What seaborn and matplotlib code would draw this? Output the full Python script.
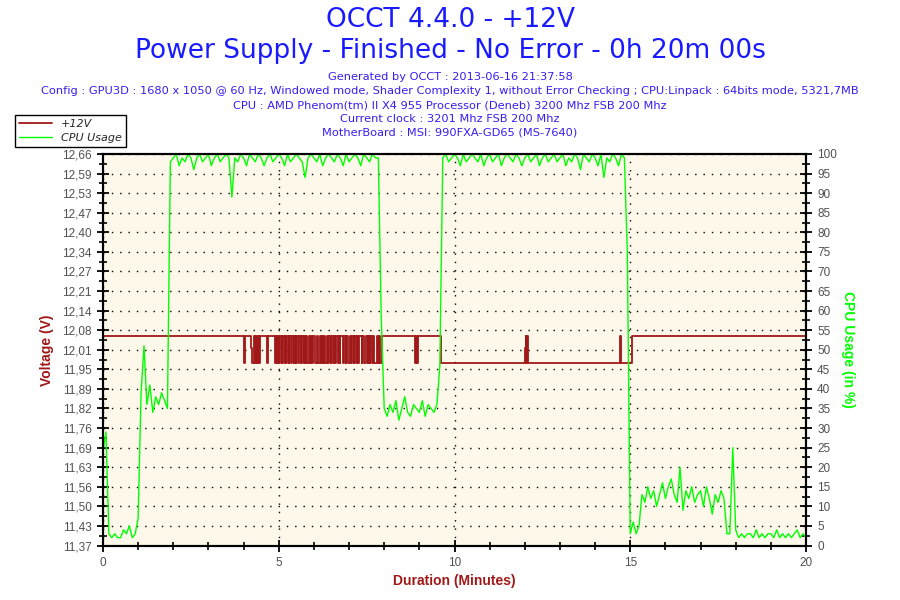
"""OCCT +12V power supply log: voltage and CPU usage over a 20 minute run."""

import matplotlib
matplotlib.use("Agg")
import matplotlib.pyplot as plt
import numpy as np
import pandas as pd
import seaborn as sns

# Voltage levels seen in the log.
HI, MID, LO = 12.06, 12.02, 11.97

# Voltage change points (minutes) and the level from that point on.
volt_minutes = [
    0.00,
    4.02, 4.05, 4.22, 4.25, 4.29, 4.33, 4.35, 4.39, 4.41, 4.44, 4.46,
    4.66, 4.68, 4.90, 4.92, 4.95, 4.97,
    5.02, 5.04, 5.08, 5.10, 5.15, 5.17, 5.21, 5.23, 5.28, 5.30,
    5.34, 5.37, 5.42, 5.44, 5.48, 5.50, 5.55, 5.58, 5.62, 5.64,
    5.68, 5.71, 5.75, 5.77, 5.81, 5.85, 5.89, 5.91, 5.95, 5.98,
    6.02, 6.08, 6.12, 6.16, 6.20, 6.22, 6.26, 6.28, 6.32, 6.36,
    6.40, 6.43, 6.48, 6.50, 6.54, 6.56, 6.61, 6.64, 6.68, 6.70,
    6.73, 6.75, 6.83, 6.86, 6.90, 6.92, 6.96, 7.02, 7.06, 7.08,
    7.13, 7.15, 7.20, 7.22, 7.26, 7.29, 7.36, 7.38, 7.42, 7.48,
    7.53, 7.55, 7.59, 7.61, 7.65, 7.68, 7.72, 7.79, 7.83, 7.85,
    7.88, 7.93,
    8.87, 8.90, 8.92, 8.95,
    9.62,
    12.00, 12.02, 12.04, 12.07, 12.09,
    14.70, 14.73,
    15.05, 20.00,
]
volt_values = [
    HI,
    LO, HI, MID, LO, HI, LO, HI, LO, HI, LO, HI,
    LO, HI, LO, HI, LO, HI,
    LO, HI, LO, HI, LO, HI, LO, HI, LO, HI,
    LO, HI, LO, HI, LO, HI, LO, HI, LO, HI,
    LO, HI, LO, HI, LO, HI, LO, HI, LO, HI,
    LO, HI, LO, HI, LO, HI, LO, HI, LO, HI,
    LO, HI, LO, HI, LO, HI, LO, HI, LO, HI,
    LO, HI, LO, HI, LO, HI, LO, HI, LO, HI,
    LO, HI, LO, HI, LO, HI, LO, HI, LO, HI,
    LO, HI, LO, HI, LO, HI, LO, HI, LO, HI,
    LO, HI,
    LO, HI, LO, HI,
    LO,
    MID, HI, LO, HI, LO,
    HI, LO,
    HI, HI,
]

# CPU usage (%), one sample every 5 s, one row per minute.
cpu_usage = [
    24, 29, 3, 2, 3, 2, 2, 4, 3, 5, 2, 3,
    7, 39, 51, 36, 41, 34, 38, 36, 39, 37, 35, 98,
    99, 100, 97, 99, 98, 100, 99, 96, 99, 100, 98, 99,
    100, 97, 99, 100, 98, 99, 100, 99, 89, 99, 98, 100,
    99, 97, 100, 99, 98, 100, 99, 97, 99, 100, 98, 99,
    100, 99, 97, 100, 98, 99, 100, 99, 98, 94, 99, 100,
    99, 98, 100, 97, 99, 100, 99, 98, 100, 99, 97, 100,
    98, 99, 100, 99, 97, 100, 99, 98, 100, 99, 99, 58,
    35, 33, 36, 34, 37, 32, 35, 38, 34, 33, 36, 35,
    34, 37, 33, 36, 35, 34, 36, 46, 99, 100, 98, 99,
    100, 99, 97, 100, 98, 99, 100, 99, 98, 100, 97, 99,
    100, 98, 99, 100, 97, 99, 100, 99, 98, 100, 99, 97,
    99, 100, 98, 99, 100, 97, 99, 100, 98, 99, 100, 98,
    99, 100, 97, 99, 98, 100, 99, 96, 100, 99, 98, 100,
    99, 97, 100, 94, 99, 98, 100, 99, 97, 100, 99, 75,
    3, 6, 3, 5, 13, 11, 15, 12, 14, 10, 13, 16,
    12, 15, 17, 13, 11, 20, 9, 14, 12, 15, 11, 13,
    14, 10, 15, 12, 8, 13, 11, 14, 12, 3, 3, 25,
    4, 2, 3, 2, 3, 3, 2, 4, 2, 3, 2, 3,
    3, 2, 4, 2, 3, 2, 3, 2, 3, 4, 2, 3,
    2,
]

volt_tick_labels = [
    "11,37", "11,43", "11,50", "11,56", "11,63", "11,69", "11,76",
    "11,82", "11,89", "11,95", "12,01", "12,08", "12,14", "12,21",
    "12,27", "12,34", "12,40", "12,47", "12,53", "12,59", "12,66",
]
cpu_tick_labels = [str(v) for v in range(0, 101, 5)]
x_tick_labels = ["0", "5", "10", "15", "20"]

header_lines = [
    "Generated by OCCT : 2013-06-16 21:37:58",
    "Config : GPU3D : 1680 x 1050 @ 60 Hz, Windowed mode, Shader Complexity 1, "
    "without Error Checking ; CPU:Linpack : 64bits mode, 5321,7MB",
    "CPU : AMD Phenom(tm) II X4 955 Processor (Deneb) 3200 Mhz FSB 200 Mhz",
    "Current clock : 3201 Mhz FSB 200 Mhz",
    "MotherBoard : MSI: 990FXA-GD65 (MS-7640)",
]

V_MIN, V_MAX = 11.3692, 12.6592
RED = "#a01818"
GREEN = "#00ff00"
TITLE_BLUE = "#1a1aff"
INFO_BLUE = "#3a1cf0"
TICK_GRAY = "#505050"


def main() -> None:
    sns.set_style("white")
    plt.rcParams["font.family"] = ["DejaVu Sans"]

    volt_df = pd.DataFrame({"minutes": volt_minutes, "volts": volt_values})
    cpu_df = pd.DataFrame({"minutes": np.arange(len(cpu_usage)) / 12.0,
                           "cpu": cpu_usage})

    fig = plt.figure(figsize=(9, 6), dpi=100)
    ax = fig.add_axes([103 / 900, 54.5 / 600, 703 / 900, 391.5 / 600])
    ax.set_facecolor("#fdf8ea")

    sns.lineplot(data=volt_df, x="minutes", y="volts", ax=ax, color=RED,
                 linewidth=1.3, drawstyle="steps-post", estimator=None,
                 sort=False)
    ax2 = ax.twinx()
    sns.lineplot(data=cpu_df, x="minutes", y="cpu", ax=ax2, color=GREEN,
                 linewidth=1, estimator=None, sort=False)

    # Axes, ticks and grid.
    ax.set_xlim(0, 20)
    ax.set_xticks([0, 5, 10, 15, 20])
    ax.set_xticklabels(x_tick_labels)
    ax.set_xticks(range(21), minor=True)
    ax.set_ylim(V_MIN, V_MAX)
    ax.set_yticks(np.linspace(V_MIN, V_MAX, 21))
    ax.set_yticklabels(volt_tick_labels)
    ax.set_yticks(np.linspace(V_MIN, V_MAX, 41), minor=True)
    ax2.set_ylim(0, 100)
    ax2.set_yticks(range(0, 101, 5))
    ax2.set_yticklabels(cpu_tick_labels)
    ax2.set_yticks(np.arange(0, 101, 2.5), minor=True)

    for a in (ax, ax2):
        a.tick_params(which="major", direction="inout", length=9, width=1.3,
                      color="black", labelcolor=TICK_GRAY, labelsize=8.5)
        a.tick_params(which="minor", direction="inout", length=6, width=1.2,
                      color="black")
        for s in a.spines.values():
            s.set_visible(True)
            s.set_color("black")
            s.set_linewidth(1.5)
    ax.tick_params(axis="x", which="both", bottom=True)
    ax.tick_params(axis="y", which="both", left=True)
    ax2.tick_params(axis="y", which="both", right=True)
    for lab in ax.get_xticklabels() + ax.get_yticklabels() + ax2.get_yticklabels():
        lab.set_family("Liberation Sans")

    ax.grid(True, which="major", color="black", linestyle=(0, (1, 5)),
            linewidth=1)

    ax.set_xlabel("Duration (Minutes)", color=RED, fontweight="bold",
                  fontsize=10, family="Liberation Sans")
    ax.xaxis.set_label_coords(0.5, -0.073)
    ax.set_ylabel("Voltage (V)", color=RED, fontweight="bold",
                  fontsize=10, family="Liberation Sans")
    ax.yaxis.set_label_coords(-0.07, 0.5)
    ax2.set_ylabel("CPU Usage (in %)", color=GREEN, fontweight="bold",
                   fontsize=10, family="Liberation Sans", rotation=270,
                   va="center")
    ax2.yaxis.set_label_coords(1.06, 0.5)

    # Header text.
    fig.text(0.5, 1 - 20 / 600, "OCCT 4.4.0 - +12V", ha="center",
             va="center", fontsize=19, color=TITLE_BLUE)
    fig.text(0.5, 1 - 51 / 600,
             "Power Supply - Finished - No Error - 0h 20m 00s", ha="center",
             va="center", fontsize=19, color=TITLE_BLUE)
    for y, line in zip([76.5, 91.5, 105, 119, 132.5], header_lines):
        fig.text(0.5, 1 - y / 600, line, ha="center", va="center",
                 fontsize=8.2, color=INFO_BLUE)

    fig.legend(handles=[ax.lines[0], ax2.lines[0]], labels=["+12V", "CPU Usage"],
               loc="upper left", bbox_to_anchor=(15 / 900, 1 - 115 / 600),
               borderaxespad=0, fancybox=False, edgecolor="black",
               framealpha=1, prop={"style": "italic", "size": 8},
               handlelength=3, borderpad=0.35, labelspacing=0.35)

    fig.savefig("out.png", dpi=100, facecolor="white")
    plt.close(fig)


if __name__ == "__main__":
    main()
